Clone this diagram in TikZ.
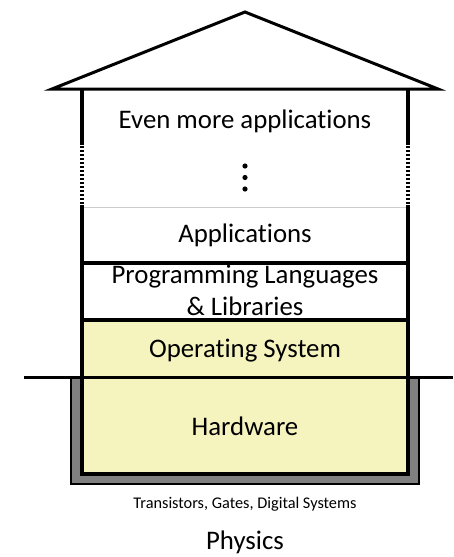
\documentclass[tikz,border=0pt]{standalone}
\usepackage{fontspec}
\setmainfont[Ligatures=NoCommon]{Carlito}
\definecolor{layeryellow}{RGB}{245,243,190}
\definecolor{basegray}{RGB}{128,128,128}
\tikzset{
  wall/.style={line width=3.5pt},
  rooftop/.style={line width=3pt, line join=miter},
  dotwall/.style={line width=3.5pt, dash pattern=on 2.2pt off 1.8pt},
  biglabel/.style={inner sep=0pt, anchor=base, font=\fontsize{26.8}{30}\selectfont},
  smalllabel/.style={inner sep=0pt, anchor=base, font=\fontsize{16.3}{19}\selectfont},
}
\begin{document}
\begin{tikzpicture}[x=1pt,y=-1pt]
\useasboundingbox (0,0) rectangle (453,557);
% foundation
\draw[fill=basegray, line width=1.5pt] (71,377) rectangle (419,484);
\draw[fill=layeryellow, wall] (82,377) rectangle (408,474);
\fill[layeryellow] (82,320) rectangle (408,377);
% thin separator
\draw[gray!40, line width=0.8pt] (84,207) -- (406,207);
% walls
\draw[wall] (82,89) -- (82,145);
\draw[wall] (408,89) -- (408,145);
\draw[dotwall] (82,146) -- (82,204);
\draw[dotwall] (408,146) -- (408,204);
\draw[wall] (82,205) -- (82,377);
\draw[wall] (408,205) -- (408,377);
% layer separators
\draw[wall] (82,263) -- (408,263);
\draw[wall] (82,320) -- (408,320);
% ground line
\draw[line width=3pt] (24,377) -- (453,377);
% roof
\draw[rooftop] (52,89) -- (245,12) -- (438,89) -- cycle;
% dots
\fill (245,166) circle (2.6pt);
\fill (245,177.5) circle (2.6pt);
\fill (245,189) circle (2.6pt);
% labels
\node[biglabel] (even) at (245,128) {Even more applications};
\node[biglabel] (apps) at (245,242) {Applications};
\node[biglabel] (pl1) at (245,283) {Programming Languages};
\node[biglabel] (pl2) at (245,315) {\& Libraries};
\node[biglabel] (os) at (245,357) {Operating System};
\node[biglabel] (hw) at (245,435) {Hardware};
\node[smalllabel] (tr) at (245,508) {Transistors, Gates, Digital Systems};
\node[biglabel] (ph) at (245,549) {Physics};
\end{tikzpicture}
\end{document}
